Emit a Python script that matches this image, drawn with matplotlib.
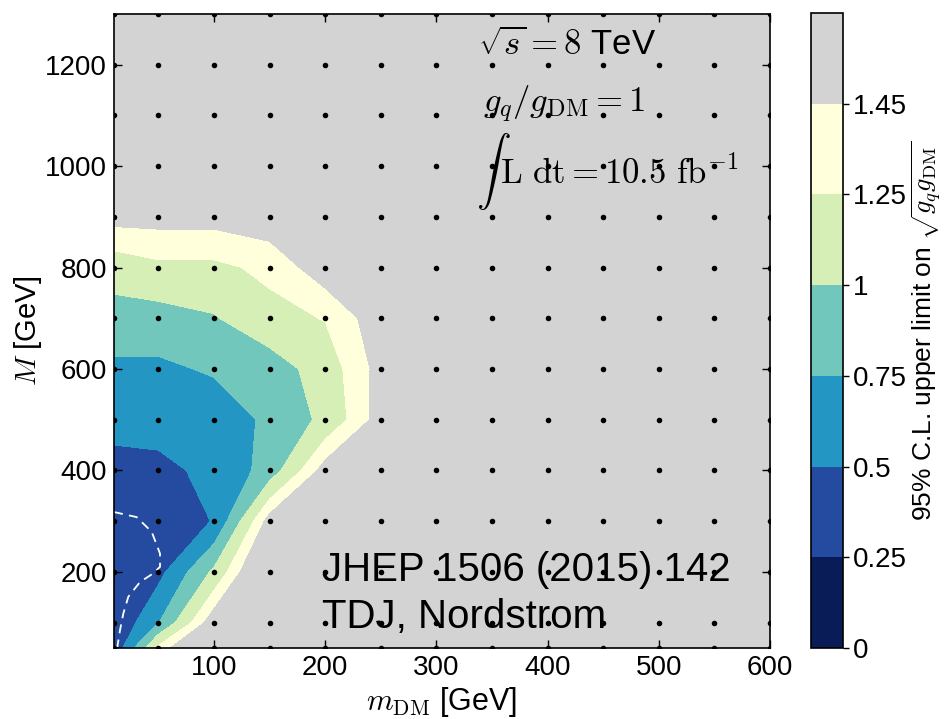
'''Upper limit on sqrt(gq gDM) in the (mDM, M) plane, filled contours'''
import numpy as np
import matplotlib
matplotlib.use('Agg')
from matplotlib import pyplot as plt

plt.rcParams['font.family'] = ['Liberation Sans', 'DejaVu Sans']
plt.rcParams['mathtext.fontset'] = 'cm'

##########################################
# scan grid (GeV)
m_dm = [10, 50, 100, 150, 200, 250, 300, 350, 400, 450, 500, 550, 600]
m_med = [50, 100, 200, 300, 400, 500, 600, 700, 800, 900, 1000, 1100, 1200, 1300]

# 95% CL upper limit, one row per mediator mass
limit = [
    [0.30, 1.30, 2.00, 2.20, 2.40, 2.60, 2.80, 3.00, 3.10, 3.20, 3.30, 3.40, 3.50],
    [0.27, 0.74, 1.60, 2.10, 2.30, 2.50, 2.70, 2.90, 3.00, 3.10, 3.20, 3.30, 3.40],
    [0.24, 0.42, 1.05, 1.90, 2.20, 2.40, 2.60, 2.80, 2.90, 3.00, 3.10, 3.20, 3.30],
    [0.36, 0.36, 0.51, 1.55, 1.90, 2.10, 2.30, 2.50, 2.60, 2.70, 2.80, 2.90, 3.00],
    [0.48, 0.48, 0.52, 0.86, 1.55, 1.80, 2.00, 2.20, 2.30, 2.40, 2.50, 2.60, 2.70],
    [0.52, 0.53, 0.60, 0.80, 1.06, 1.55, 1.80, 2.00, 2.10, 2.20, 2.30, 2.40, 2.50],
    [0.70, 0.70, 0.78, 0.87, 1.12, 1.53, 1.80, 1.95, 2.05, 2.15, 2.25, 2.35, 2.45],
    [0.90, 0.90, 0.98, 1.18, 1.26, 1.585, 1.80, 1.95, 2.05, 2.15, 2.25, 2.35, 2.45],
    [1.11, 1.20, 1.20, 1.30, 1.58, 1.80, 1.90, 2.00, 2.10, 2.20, 2.30, 2.40, 2.50],
    [1.53, 1.53, 1.53, 1.59, 1.70, 1.85, 2.00, 2.10, 2.20, 2.30, 2.40, 2.50, 2.60],
    [1.80, 1.80, 1.85, 1.90, 2.00, 2.10, 2.20, 2.30, 2.40, 2.50, 2.60, 2.70, 2.80],
    [2.00, 2.00, 2.05, 2.10, 2.20, 2.30, 2.40, 2.50, 2.60, 2.70, 2.80, 2.90, 3.00],
    [2.20, 2.20, 2.25, 2.30, 2.40, 2.50, 2.60, 2.70, 2.80, 2.90, 3.00, 3.10, 3.20],
    [2.40, 2.40, 2.45, 2.50, 2.60, 2.70, 2.80, 2.90, 3.00, 3.10, 3.20, 3.30, 3.40],
]

# dashed white contour
dash_x = [10, 30.4, 43.9, 51.4, 51.4, 45.3, 33.4, 22.9, 18.4, 15.4, 13]
dash_y = [318, 308, 279, 236, 210, 197, 180, 151, 118, 85, 52]

levels = [0, 0.25, 0.5, 0.75, 1.0, 1.25, 1.45, 5.0]
level_labels = ['0', '0.25', '0.5', '0.75', '1', '1.25', '1.45']
colours = ['#0a1c57', '#244b9f', '#2396c3', '#72c7bd', '#d5efb7', '#ffffdb', '#d3d3d3']

##########################################

fig = plt.figure(figsize=(9.46, 7.19), dpi=100)
ax = fig.add_axes([0.1205, 0.0988, 0.6935, 0.8818])
cax = fig.add_axes([0.857, 0.0988, 0.034, 0.8830])

X, Y = np.meshgrid(m_dm, m_med)
cs = ax.contourf(X, Y, np.array(limit), levels=levels, colors=colours)

ax.plot(dash_x, dash_y, color='white', ls=(0, (5, 3.5)), lw=1.3)

# scan points
ax.scatter(X.ravel(), Y.ravel(), s=16, c='black', zorder=3, linewidths=0)

ax.set_xlim(10, 600)
ax.set_ylim(50, 1300)
ax.set_xticks([100, 200, 300, 400, 500, 600])
ax.set_yticks([200, 400, 600, 800, 1000, 1200])
ax.tick_params(direction='in', top=True, right=True, length=6, width=1,
               labelsize=20, pad=5)
for s in ax.spines.values():
    s.set_linewidth(1.2)
ax.set_xlabel(r'$m_{\rm DM}$ [GeV]', fontsize=22, labelpad=3)
ax.set_ylabel(r'$M$ [GeV]', fontsize=21, labelpad=1)

# run info
ax.text(0.555, 0.951, r'$\sqrt{s}=8$ TeV', transform=ax.transAxes,
        fontsize=25, va='center', ha='left')
ax.text(0.562, 0.857, r'$g_q/g_{\rm DM}=1$', transform=ax.transAxes,
        fontsize=25, va='center', ha='left')
ax.text(0.552, 0.752, r'$\int\,{\rm L\ dt}=10.5\ {\rm fb}^{-1}$',
        transform=ax.transAxes, fontsize=25, va='center', ha='left')

ax.text(0.317, 0.123, 'JHEP 1506 (2015) 142', transform=ax.transAxes,
        fontsize=29, va='center', ha='left')
ax.text(0.317, 0.049, 'TDJ, Nordstrom', transform=ax.transAxes,
        fontsize=29, va='center', ha='left')

cb = fig.colorbar(cs, cax=cax, ticks=levels[:-1])
cb.ax.set_yticklabels(level_labels)
cb.ax.tick_params(labelsize=20, length=4, width=1)
cb.outline.set_linewidth(1.2)
cb.set_label(r'95% C.L. upper limit on $\sqrt{g_q g_{\rm DM}}$', fontsize=19,
             labelpad=1)

fig.savefig('out.png', dpi=100)
